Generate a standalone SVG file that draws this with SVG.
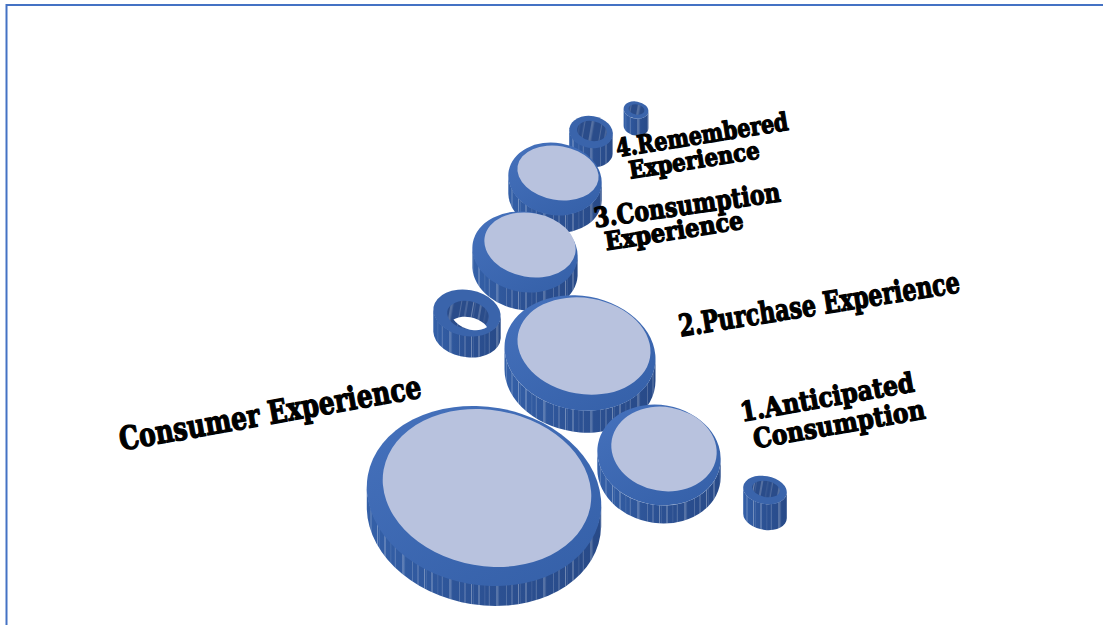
<svg xmlns="http://www.w3.org/2000/svg" width="1103" height="625" viewBox="0 0 1103 625">
  <defs>
    <style>
      .side{fill:url(#sideGrad)}
      .streak{fill:url(#streaks)}
      .rim{fill:url(#rimGrad)}
      .ring{fill:#3A64AB}
      .face{fill:#B8C2DE}
      .wall{fill:#2A4C8A}
      .hole{fill:#FFFFFF}
      .lbl{font-family:"DejaVu Serif","Liberation Serif",serif;font-weight:bold;fill:#000000;stroke:#000000;stroke-width:1.3;stroke-linejoin:round;text-anchor:middle;dominant-baseline:central}
    </style>
    <linearGradient id="sideGrad" x1="0" y1="0" x2="1" y2="0">
      <stop offset="0" stop-color="#3460A8"/>
      <stop offset="0.5" stop-color="#2C5193"/>
      <stop offset="1" stop-color="#284A88"/>
    </linearGradient>
    <linearGradient id="rimGrad" x1="0" y1="0" x2="1" y2="1">
      <stop offset="0" stop-color="#4672BD"/>
      <stop offset="1" stop-color="#345FA7"/>
    </linearGradient>
    <!-- irregular light vertical streaks on the cylinder walls -->
    <pattern id="streaks" patternUnits="userSpaceOnUse" width="47" height="40">
      <g stroke="#FFFFFF" fill="none">
        <line x1="1.5" y1="0" x2="1.5" y2="40" stroke-width="0.7" stroke-opacity="0.45"/>
        <line x1="3.4" y1="0" x2="3.4" y2="40" stroke-width="0.5" stroke-opacity="0.2"/>
        <line x1="9" y1="0" x2="9" y2="40" stroke-width="0.8" stroke-opacity="0.5"/>
        <line x1="14.8" y1="0" x2="14.8" y2="40" stroke-width="0.5" stroke-opacity="0.2"/>
        <line x1="19.3" y1="0" x2="19.3" y2="40" stroke-width="0.6" stroke-opacity="0.35"/>
        <line x1="27" y1="0" x2="27" y2="40" stroke-width="0.9" stroke-opacity="0.45"/>
        <line x1="28.6" y1="0" x2="28.6" y2="40" stroke-width="0.5" stroke-opacity="0.25"/>
        <line x1="36.5" y1="0" x2="36.5" y2="40" stroke-width="0.6" stroke-opacity="0.3"/>
        <line x1="42" y1="0" x2="42" y2="40" stroke-width="0.7" stroke-opacity="0.4"/>
      </g>
    </pattern>
    <clipPath id="ringHoleClip">
      <ellipse cx="468" cy="315" rx="21" ry="14" transform="rotate(10 468 315)"/>
    </clipPath>
  </defs>

  <rect width="1103" height="625" fill="#FFFFFF"/>
  <!-- frame -->
  <path d="M6.5,625 V5 H1103" fill="none" stroke="#4472C4" stroke-width="2"/>

  <!-- tiny tube, top -->
  <g id="tube-top-small">
    <path class="side" d="M623.6,108.8 V125.8 A12.5,8.5 10 0 0 648.4,128.2 V111.2 A12.5,8.5 10 0 1 623.6,108.8 Z"/>
    <path class="streak" d="M623.6,108.8 V125.8 A12.5,8.5 10 0 0 648.4,128.2 V111.2 A12.5,8.5 10 0 1 623.6,108.8 Z"/>
    <ellipse class="ring" cx="636" cy="110" rx="12.5" ry="8.5" transform="rotate(10 636 110)"/>
    <ellipse class="wall" cx="636.5" cy="109.5" rx="8" ry="5" transform="rotate(10 636.5 109.5)"/>
    <ellipse class="streak" cx="636.5" cy="109.5" rx="8" ry="5" transform="rotate(10 636.5 109.5)"/>
  </g>

  <!-- tube next to label 4 -->
  <g id="tube-top">
    <path class="side" d="M569.2,130.2 V150.2 A22,16 10 0 0 612.8,153.8 V133.8 A22,16 10 0 1 569.2,130.2 Z"/>
    <path class="streak" d="M569.2,130.2 V150.2 A22,16 10 0 0 612.8,153.8 V133.8 A22,16 10 0 1 569.2,130.2 Z"/>
    <ellipse class="ring" cx="591" cy="132" rx="22" ry="16" transform="rotate(10 591 132)"/>
    <ellipse class="wall" cx="592" cy="131" rx="15" ry="10" transform="rotate(10 592 131)"/>
    <ellipse class="streak" cx="592" cy="131" rx="15" ry="10" transform="rotate(10 592 131)"/>
  </g>

  <!-- cylinder: remembered experience -->
  <g id="cyl-remembered">
    <path class="side" d="M508.3,175.7 V193.7 A47,36 10 0 0 601.7,200.3 V182.3 A47,36 10 0 1 508.3,175.7 Z"/>
    <path class="streak" d="M508.3,175.7 V193.7 A47,36 10 0 0 601.7,200.3 V182.3 A47,36 10 0 1 508.3,175.7 Z"/>
    <ellipse class="rim" cx="555" cy="179" rx="47" ry="36" transform="rotate(10 555 179)"/>
    <ellipse class="face" cx="558" cy="173" rx="41" ry="27" transform="rotate(10 558 173)"/>
  </g>

  <!-- cylinder: consumption experience -->
  <g id="cyl-consumption">
    <path class="side" d="M472.4,248.1 V268.1 A53,40 10 0 0 577.6,275.9 V255.9 A53,40 10 0 1 472.4,248.1 Z"/>
    <path class="streak" d="M472.4,248.1 V268.1 A53,40 10 0 0 577.6,275.9 V255.9 A53,40 10 0 1 472.4,248.1 Z"/>
    <ellipse class="rim" cx="525" cy="252" rx="53" ry="40" transform="rotate(10 525 252)"/>
    <ellipse class="face" cx="530" cy="245" rx="46" ry="32" transform="rotate(10 530 245)"/>
  </g>

  <!-- open ring, left -->
  <g id="ring-left">
    <path class="side" d="M433.3,309.8 V331.8 A34,23 10 0 0 500.7,338.2 V316.2 A34,23 10 0 1 433.3,309.8 Z"/>
    <path class="streak" d="M433.3,309.8 V331.8 A34,23 10 0 0 500.7,338.2 V316.2 A34,23 10 0 1 433.3,309.8 Z"/>
    <ellipse class="ring" cx="467" cy="313" rx="34" ry="23" transform="rotate(10 467 313)"/>
    <ellipse class="wall" cx="468" cy="315" rx="21" ry="14" transform="rotate(10 468 315)"/>
    <ellipse class="streak" cx="468" cy="315" rx="21" ry="14" transform="rotate(10 468 315)"/>
    <ellipse class="hole" cx="468" cy="331" rx="21" ry="14" transform="rotate(10 468 331)" clip-path="url(#ringHoleClip)"/>
  </g>

  <!-- cylinder: purchase experience -->
  <g id="cyl-purchase">
    <path class="side" d="M504.5,347.3 V369.3 A76,57 10 0 0 655.5,380.7 V358.7 A76,57 10 0 1 504.5,347.3 Z"/>
    <path class="streak" d="M504.5,347.3 V369.3 A76,57 10 0 0 655.5,380.7 V358.7 A76,57 10 0 1 504.5,347.3 Z"/>
    <ellipse class="rim" cx="580" cy="353" rx="76" ry="57" transform="rotate(10 580 353)"/>
    <ellipse class="face" cx="584" cy="346" rx="67" ry="48" transform="rotate(10 584 346)"/>
  </g>

  <!-- cylinder: anticipated consumption -->
  <g id="cyl-anticipated">
    <path class="side" d="M597.3,451.3 V469.3 A62,50 10 0 0 720.7,476.7 V458.7 A62,50 10 0 1 597.3,451.3 Z"/>
    <path class="streak" d="M597.3,451.3 V469.3 A62,50 10 0 0 720.7,476.7 V458.7 A62,50 10 0 1 597.3,451.3 Z"/>
    <ellipse class="rim" cx="659" cy="455" rx="62" ry="50" transform="rotate(10 659 455)"/>
    <ellipse class="face" cx="664" cy="449" rx="53" ry="42" transform="rotate(10 664 449)"/>
  </g>

  <!-- main cylinder: consumer experience -->
  <g id="cyl-consumer">
    <path class="side" d="M366.8,487.2 V509.2 A118,89 10 0 0 601.2,526.8 V504.8 A118,89 10 0 1 366.8,487.2 Z"/>
    <path class="streak" d="M366.8,487.2 V509.2 A118,89 10 0 0 601.2,526.8 V504.8 A118,89 10 0 1 366.8,487.2 Z"/>
    <ellipse class="rim" cx="484" cy="496" rx="118" ry="89" transform="rotate(10 484 496)"/>
    <ellipse class="face" cx="487" cy="488" rx="105" ry="78" transform="rotate(10 487 488)"/>
  </g>

  <!-- tube, bottom right -->
  <g id="tube-bottom">
    <path class="side" d="M743.2,487.7 V513.7 A22,14 10 0 0 786.8,518.3 V492.3 A22,14 10 0 1 743.2,487.7 Z"/>
    <path class="streak" d="M743.2,487.7 V513.7 A22,14 10 0 0 786.8,518.3 V492.3 A22,14 10 0 1 743.2,487.7 Z"/>
    <ellipse class="ring" cx="765" cy="490" rx="22" ry="14" transform="rotate(10 765 490)"/>
    <ellipse class="wall" cx="766" cy="489" rx="14" ry="8" transform="rotate(10 766 489)"/>
    <ellipse class="streak" cx="766" cy="489" rx="14" ry="8" transform="rotate(10 766 489)"/>
  </g>

  <!-- labels -->
  <g id="label-consumer">
    <text class="lbl" x="270" y="413" font-size="32" textLength="306" lengthAdjust="spacingAndGlyphs" transform="rotate(-10 270 413)">Consumer Experience</text>
  </g>
  <g id="label-purchase">
    <text class="lbl" x="819" y="304" font-size="30" textLength="284" lengthAdjust="spacingAndGlyphs" transform="rotate(-9 819 304)">2.Purchase Experience</text>
  </g>
  <g id="label-anticipated">
    <text class="lbl" x="827" y="397" font-size="27" textLength="176" lengthAdjust="spacingAndGlyphs" transform="rotate(-10 827 397)">1.Anticipated</text>
    <text class="lbl" x="839" y="424" font-size="27" textLength="174" lengthAdjust="spacingAndGlyphs" transform="rotate(-10 839 424)">Consumption</text>
  </g>
  <g id="label-consumption">
    <text class="lbl" x="687" y="205" font-size="27" textLength="188" lengthAdjust="spacingAndGlyphs" transform="rotate(-8 687 205)">3.Consumption</text>
    <text class="lbl" x="674" y="231" font-size="25" textLength="140" lengthAdjust="spacingAndGlyphs" transform="rotate(-9 674 231)">Experience</text>
  </g>
  <g id="label-remembered">
    <text class="lbl" x="702" y="135" font-size="25" textLength="174" lengthAdjust="spacingAndGlyphs" transform="rotate(-9 702 135)">4.Remembered</text>
    <text class="lbl" x="694" y="160" font-size="24" textLength="132" lengthAdjust="spacingAndGlyphs" transform="rotate(-9 694 160)">Experience</text>
  </g>
</svg>
